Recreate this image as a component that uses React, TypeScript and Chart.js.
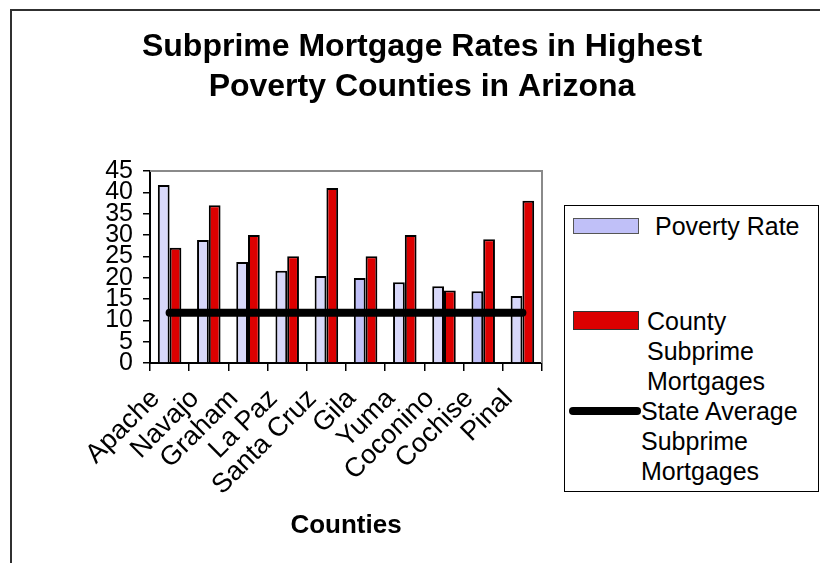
import React, { useEffect, useRef } from 'react';
import { Chart, registerables } from 'chart.js';

Chart.register(...registerables);

// ---- data ----
const TITLE_LINES = ['Subprime Mortgage Rates in Highest', 'Poverty Counties in Arizona'];
const X_TITLE = 'Counties';
const COUNTIES = ['Apache', 'Navajo', 'Graham', 'La Paz', 'Santa Cruz', 'Gila', 'Yuma', 'Coconino', 'Cochise', 'Pinal'];
const POVERTY_RATE = [41.7, 28.8, 23.7, 21.6, 20.4, 19.9, 18.9, 18.0, 16.8, 15.7];
const COUNTY_SUBPRIME = [27, 37, 30, 25, 41, 25, 30, 17, 29, 38];
const STATE_AVERAGE = [11.8, 11.8, 11.8, 11.8, 11.8, 11.8, 11.8, 11.8, 11.8, 11.8];
const SERIES_LABELS = ['Poverty Rate', 'County Subprime Mortgages', 'State Average Subprime Mortgages'];
const Y_MIN = 0;
const Y_MAX = 45;
const Y_STEP = 5;

// ---- styles ----
const FONT = '"Liberation Sans", Arial, Helvetica, sans-serif';
const LAVENDER = '#d8d8fa';
const LAVENDER_DARK = '#c0c0f8';
const POVERTY_FILLS = [LAVENDER, LAVENDER, LAVENDER, LAVENDER, LAVENDER, LAVENDER_DARK, LAVENDER, LAVENDER, LAVENDER_DARK, LAVENDER];
const RED = '#dc0000';

const plotFrame = {
  id: 'plotFrame',
  beforeDatasetsDraw(chart: any) {
    const { ctx, chartArea } = chart;
    const { left, right, top, bottom } = chartArea;
    ctx.save();
    ctx.strokeStyle = '#8a8a8a';
    ctx.lineWidth = 2;
    ctx.beginPath();
    ctx.moveTo(left, top);
    ctx.lineTo(right, top);
    ctx.lineTo(right, bottom);
    ctx.stroke();
    ctx.restore();
  },
};

export default function App() {
  const ref = useRef<HTMLCanvasElement>(null);

  useEffect(() => {
    Chart.defaults.font.family = FONT;
    Chart.defaults.color = '#000';
    const chart = new Chart(ref.current as HTMLCanvasElement, {
      type: 'bar',
      data: {
        labels: COUNTIES,
        datasets: [
          {
            type: 'bar',
            label: SERIES_LABELS[0],
            data: POVERTY_RATE,
            backgroundColor: POVERTY_FILLS,
            borderColor: '#000',
            borderWidth: 2,
            categoryPercentage: 0.6,
            barPercentage: 1,
            order: 1,
          },
          {
            type: 'bar',
            label: SERIES_LABELS[1],
            data: COUNTY_SUBPRIME,
            backgroundColor: RED,
            borderColor: '#000',
            borderWidth: 2,
            categoryPercentage: 0.6,
            barPercentage: 1,
            order: 1,
          },
          {
            type: 'line',
            label: SERIES_LABELS[2],
            data: STATE_AVERAGE,
            borderColor: '#000',
            backgroundColor: '#000',
            borderWidth: 8,
            borderCapStyle: 'round',
            pointRadius: 0,
            fill: false,
            order: 0,
          },
        ] as any,
      },
      options: {
        responsive: false,
        animation: false,
        layout: { padding: { left: 0, right: 0, top: 0, bottom: 0 } },
        plugins: {
          legend: { display: false },
          tooltip: { enabled: false },
          title: {
            display: true,
            text: TITLE_LINES,
            color: '#000',
            font: { family: FONT, size: 32, weight: 'bold', lineHeight: '40px' },
            padding: { top: 16, bottom: 64 },
          },
        },
        scales: {
          x: {
            offset: true,
            grid: {
              offset: true,
              drawOnChartArea: false,
              drawTicks: true,
              tickLength: 8,
              color: '#000',
              lineWidth: 1.5,
            },
            border: { display: true, color: '#000', width: 2 },
            ticks: {
              autoSkip: false,
              maxRotation: 45,
              minRotation: 45,
              padding: 12,
              labelOffset: -14,
              color: '#000',
              font: { family: FONT, size: 27 },
            },
            title: {
              display: true,
              text: X_TITLE,
              color: '#000',
              font: { family: FONT, size: 26, weight: 'bold' },
              padding: { top: 0, bottom: 22 },
            },
            afterFit: (s: any) => {
              s.height = 200;
            },
          },
          y: {
            min: Y_MIN,
            max: Y_MAX,
            grid: {
              drawOnChartArea: false,
              drawTicks: true,
              tickLength: 7,
              color: '#000',
              lineWidth: 1.5,
            },
            border: { display: true, color: '#000', width: 2 },
            ticks: {
              stepSize: Y_STEP,
              autoSkip: false,
              padding: 10,
              color: '#000',
              font: { family: FONT, size: 25 },
            },
            afterFit: (s: any) => {
              s.width = 138;
            },
          },
          legendSpace: {
            position: 'right',
            display: true,
            grid: { display: false, drawTicks: false },
            border: { display: false },
            ticks: { display: false },
            afterFit: (s: any) => {
              s.width = 290;
            },
          },
        } as any,
      },
      plugins: [plotFrame],
    });
    return () => chart.destroy();
  }, []);

  const textStyle: React.CSSProperties = {
    position: 'absolute',
    fontFamily: FONT,
    fontSize: 25,
    lineHeight: '30px',
    color: '#000',
  };

  return (
    <div
      style={{
        position: 'fixed',
        left: 0,
        top: 0,
        width: 820,
        height: 563,
        overflow: 'hidden',
        background: '#fff',
      }}
    >
      <div
        style={{
          position: 'absolute',
          left: 10,
          top: 9,
          width: 900,
          height: 700,
          borderTop: '2px solid #303030',
          borderLeft: '2px solid #303030',
        }}
      >
        <canvas ref={ref} width={820} height={552} style={{ display: 'block', width: 820, height: 552 }} />
      </div>
      <div
        style={{
          position: 'absolute',
          left: 564,
          top: 205,
          width: 255,
          height: 287,
          border: '1px solid #000',
          background: '#fff',
          boxSizing: 'border-box',
        }}
      >
        <div
          style={{
            position: 'absolute',
            left: 8,
            top: 12,
            width: 66,
            height: 16,
            background: LAVENDER_DARK,
            border: '1px solid #555',
            boxSizing: 'border-box',
          }}
        />
        <div style={{ ...textStyle, left: 90, top: 5, width: 162 }}>{SERIES_LABELS[0]}</div>
        <div
          style={{
            position: 'absolute',
            left: 8,
            top: 105,
            width: 66,
            height: 19,
            background: RED,
            border: '1px solid #333',
            boxSizing: 'border-box',
          }}
        />
        <div style={{ ...textStyle, left: 82, top: 100, width: 170 }}>{SERIES_LABELS[1]}</div>
        <div
          style={{
            position: 'absolute',
            left: 4,
            top: 201,
            width: 72,
            height: 8,
            background: '#000',
            borderRadius: 4,
          }}
        />
        <div style={{ ...textStyle, left: 76, top: 190, width: 176 }}>{SERIES_LABELS[2]}</div>
      </div>
    </div>
  );
}
